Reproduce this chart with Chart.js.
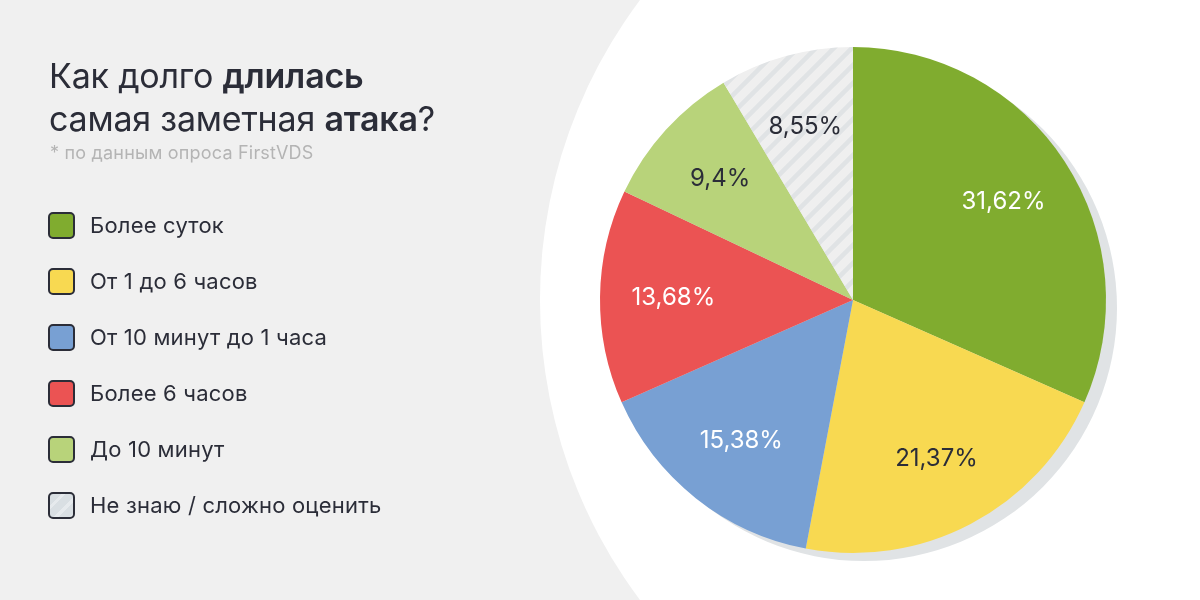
<!DOCTYPE html>
<html>
<head>
<meta charset="utf-8">
<script src="https://cdn.jsdelivr.net/npm/chart.js@4"></script>
<style>
  html, body { margin: 0; padding: 0; }
  body { width: 1200px; height: 600px; background: #f0f0f0; position: relative; overflow: hidden; font-family: Inter, "Open Sans", sans-serif; color: #2b2d38; }
  #bgcircle { position: absolute; left: 540px; top: -200px; width: 1000px; height: 1000px; border-radius: 50%; background: #ffffff; }
  #chartwrap { position: absolute; left: 0; top: 0; width: 1200px; height: 600px; }
  #title { position: absolute; left: 49px; top: 54px; font-size: 34px; line-height: 43px; font-weight: 400; color: #2b2d38; letter-spacing: -0.2px; }
  #title b { font-weight: 600; }
  #subtitle { position: absolute; left: 50px; top: 142px; font-size: 18px; color: #b4b4b4; letter-spacing: 0.2px; }
  #legend { position: absolute; left: 48px; top: 197px; }
  .item { display: flex; align-items: center; height: 56px; margin: 0; }
  .item .box { width: 27px; height: 27px; box-sizing: border-box; border: 2px solid #2b2d38; border-radius: 5px; margin-right: 15px; }
  .item .lbl { font-size: 22px; color: #2b2d38; letter-spacing: 0.2px; }
</style>
</head>
<body>
<div id="bgcircle"></div>
<div id="chartwrap"><canvas id="c" width="1200" height="600"></canvas></div>
<div id="title">Как долго <b>длилась</b><br>самая заметная <b>атака</b>?</div>
<div id="subtitle">* по данным опроса FirstVDS</div>
<div id="legend"></div>
<script>
const categories = ["Более суток", "От 1 до 6 часов", "От 10 минут до 1 часа", "Более 6 часов", "До 10 минут", "Не знаю / сложно оценить"];
const values = [31.62, 21.37, 15.38, 13.68, 9.4, 8.55];
const valueLabels = ["31,62%", "21,37%", "15,38%", "13,68%", "9,4%", "8,55%"];
const colors = ["#80ac2f", "#f8d951", "#78a0d3", "#eb5353", "#b8d37a", "hatch"];
const labelColors = ["#ffffff", "#2b2d38", "#ffffff", "#ffffff", "#2b2d38", "#2b2d38"];

function makeHatch() {
  const s = 18;
  const pc = document.createElement('canvas');
  pc.width = s; pc.height = s;
  const p = pc.getContext('2d');
  p.fillStyle = '#efefef';
  p.fillRect(0, 0, s, s);
  p.strokeStyle = '#e0e3e5';
  p.lineWidth = 4.5;
  p.beginPath();
  for (let k = -1; k <= 1; k++) {
    p.moveTo(k * s - 2, s + 2);
    p.lineTo(k * s + s + 2, -2);
  }
  p.stroke();
  return p.createPattern(pc, 'repeat');
}

const ctx = document.getElementById('c').getContext('2d');
const hatch = makeHatch();
const bg = colors.map(c => c === 'hatch' ? hatch : c);

const leg = document.getElementById('legend');
categories.forEach((name, i) => {
  const it = document.createElement('div');
  it.className = 'item';
  const b = document.createElement('div');
  b.className = 'box';
  if (colors[i] === 'hatch') {
    b.style.background = 'repeating-linear-gradient(135deg, #d9dfe3 0 8px, #e6eaed 8px 11px)';
  } else {
    b.style.background = colors[i];
  }
  const l = document.createElement('div');
  l.className = 'lbl';
  l.textContent = name;
  it.appendChild(b); it.appendChild(l);
  leg.appendChild(it);
});

const shadowPlugin = {
  id: 'shadow',
  beforeDatasetsDraw(chart) {
    const arc = chart.getDatasetMeta(0).data[0];
    if (!arc) return;
    const c = chart.ctx;
    c.save();
    c.fillStyle = '#e0e3e5';
    c.beginPath();
    c.arc(arc.x + 11, arc.y + 8, arc.outerRadius, 0, Math.PI * 2);
    c.fill();
    c.restore();
  }
};

const labelPlugin = {
  id: 'sliceLabels',
  afterDatasetsDraw(chart) {
    const c = chart.ctx;
    const meta = chart.getDatasetMeta(0);
    c.save();
    c.font = '400 24px Inter, "Open Sans", sans-serif';
    c.textAlign = 'center';
    c.textBaseline = 'middle';
    meta.data.forEach((arc, i) => {
      const mid = (arc.startAngle + arc.endAngle) / 2;
      const r = arc.outerRadius * 0.71;
      c.fillStyle = labelColors[i];
      c.fillText(valueLabels[i], arc.x + Math.cos(mid) * r, arc.y + Math.sin(mid) * r);
    });
    c.restore();
  }
};

new Chart(ctx, {
  type: 'pie',
  data: {
    labels: categories,
    datasets: [{
      data: values,
      backgroundColor: bg,
      borderWidth: 0,
      hoverOffset: 0
    }]
  },
  options: {
    responsive: false,
    animation: false,
    layout: { padding: { left: 600, right: 94, top: 47, bottom: 47 } },
    plugins: {
      legend: { display: false },
      tooltip: { enabled: false }
    }
  },
  plugins: [shadowPlugin, labelPlugin]
});
</script>
</body>
</html>
